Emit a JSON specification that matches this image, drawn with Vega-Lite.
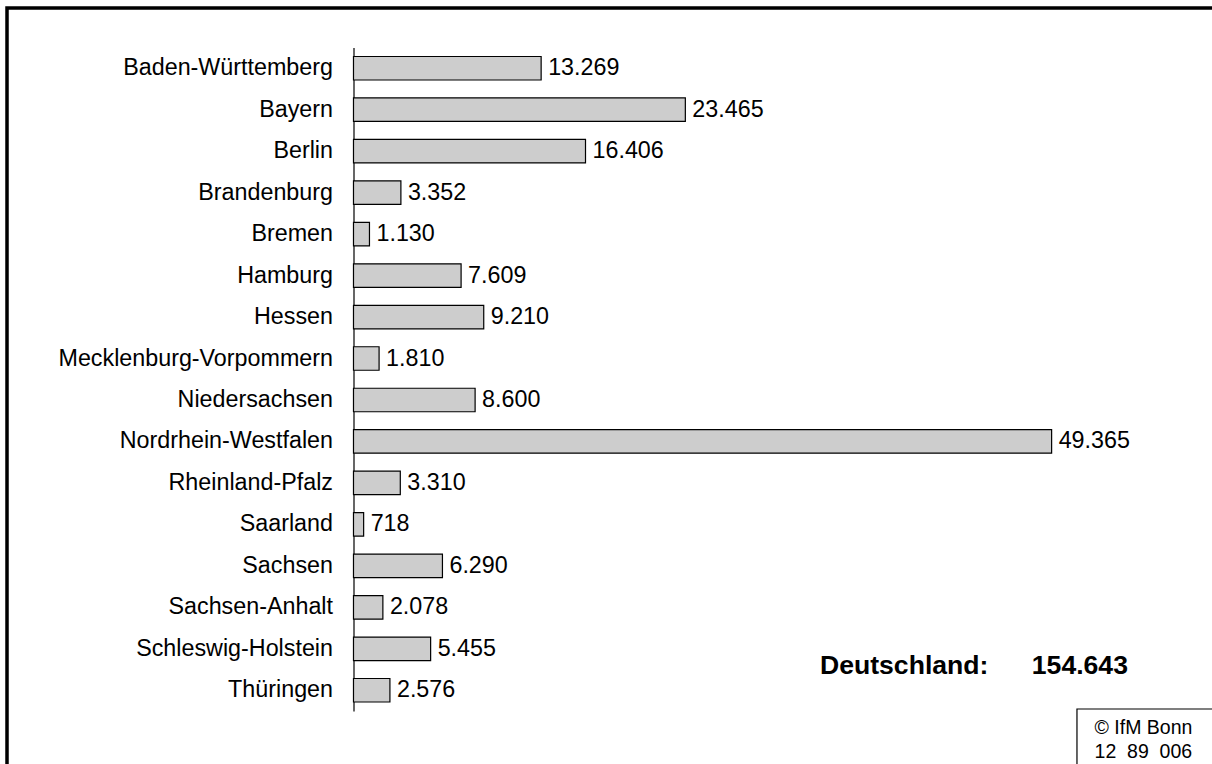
{
  "$schema": "https://vega.github.io/schema/vega-lite/v6.json",
  "width": 1212,
  "height": 760,
  "autosize": {"type": "none"},
  "padding": {"left": 7, "top": 8, "right": 0, "bottom": 0},
  "background": "white",
  "config": {
    "view": {"stroke": "#000000", "strokeWidth": 3.5},
    "font": "Liberation Sans",
    "locale": {"number": {"decimal": ",", "thousands": ".", "grouping": [3], "currency": ["", " €"]}}
  },
  "datasets": {
    "laender": [
      {"land": "Baden-Württemberg", "wert": 13269},
      {"land": "Bayern", "wert": 23465},
      {"land": "Berlin", "wert": 16406},
      {"land": "Brandenburg", "wert": 3352},
      {"land": "Bremen", "wert": 1130},
      {"land": "Hamburg", "wert": 7609},
      {"land": "Hessen", "wert": 9210},
      {"land": "Mecklenburg-Vorpommern", "wert": 1810},
      {"land": "Niedersachsen", "wert": 8600},
      {"land": "Nordrhein-Westfalen", "wert": 49365},
      {"land": "Rheinland-Pfalz", "wert": 3310},
      {"land": "Saarland", "wert": 718},
      {"land": "Sachsen", "wert": 6290},
      {"land": "Sachsen-Anhalt", "wert": 2078},
      {"land": "Schleswig-Holstein", "wert": 5455},
      {"land": "Thüringen", "wert": 2576}
    ],
    "notiz": [
      {"text": "Deutschland:", "pos": 32985, "zeile": 658, "art": "titel"},
      {"text": "154.643", "pos": 54762, "zeile": 658, "art": "summe"},
      {"text": "© IfM Bonn", "pos": 52400, "zeile": 720, "art": "copy"},
      {"text": "12\u00a0 89\u00a0 006", "pos": 52400, "zeile": 744, "art": "copy"}
    ]
  },
  "layer": [
    {
      "data": {"name": "laender"},
      "encoding": {
        "y": {
          "field": "land", "type": "nominal", "sort": null,
          "scale": {"range": [39.5, 703], "paddingInner": 0.433, "paddingOuter": 0.2165},
          "axis": {
            "title": null, "ticks": false, "labelPadding": 21, "offset": -346.5,
            "domainColor": "#000000", "domainWidth": 1.2,
            "labelFontSize": 23.3, "labelColor": "#000000", "labelFont": "Liberation Sans",
            "labelLimit": 400, "grid": false
          }
        },
        "x": {"field": "wert", "type": "quantitative", "scale": {"domain": [-24500, 61200], "nice": false}, "axis": null}
      },
      "layer": [
        {"mark": {"type": "bar", "fill": "#cdcdcd", "stroke": "#000000", "strokeWidth": 1.2}},
        {
          "mark": {"type": "text", "align": "left", "baseline": "middle", "dx": 7, "fontSize": 23.3, "color": "#000000"},
          "encoding": {"text": {"field": "wert", "type": "quantitative", "format": ",d"}}
        }
      ]
    },
    {
      "data": {"values": [{"x1": 51157, "x2": 63000, "y1": 701, "y2": 770}]},
      "mark": {"type": "rect", "fill": "white", "stroke": "#000000", "strokeWidth": 1.2},
      "encoding": {
        "x": {"field": "x1", "type": "quantitative"},
        "x2": {"field": "x2"},
        "y": {"field": "y1", "type": "quantitative", "scale": {"domain": [0, 760], "reverse": true, "nice": false}, "axis": null},
        "y2": {"field": "y2"}
      }
    },
    {
      "data": {"name": "notiz"},
      "transform": [{"filter": "datum.art == 'titel'"}],
      "mark": {"type": "text", "align": "left", "baseline": "middle", "fontSize": 26.6, "fontWeight": "bold", "color": "#000000"},
      "encoding": {
        "x": {"field": "pos", "type": "quantitative"},
        "y": {"field": "zeile", "type": "quantitative", "scale": {"domain": [0, 760], "reverse": true, "nice": false}, "axis": null},
        "text": {"field": "text"}
      }
    },
    {
      "data": {"name": "notiz"},
      "transform": [{"filter": "datum.art == 'summe'"}],
      "mark": {"type": "text", "align": "right", "baseline": "middle", "fontSize": 26.6, "fontWeight": "bold", "color": "#000000"},
      "encoding": {
        "x": {"field": "pos", "type": "quantitative"},
        "y": {"field": "zeile", "type": "quantitative", "scale": {"domain": [0, 760], "reverse": true, "nice": false}, "axis": null},
        "text": {"field": "text"}
      }
    },
    {
      "data": {"name": "notiz"},
      "transform": [{"filter": "datum.art == 'copy'"}],
      "mark": {"type": "text", "align": "left", "baseline": "middle", "fontSize": 19.5, "color": "#000000"},
      "encoding": {
        "x": {"field": "pos", "type": "quantitative"},
        "y": {"field": "zeile", "type": "quantitative", "scale": {"domain": [0, 760], "reverse": true, "nice": false}, "axis": null},
        "text": {"field": "text"}
      }
    }
  ],
  "resolve": {"scale": {"y": "independent"}}
}
